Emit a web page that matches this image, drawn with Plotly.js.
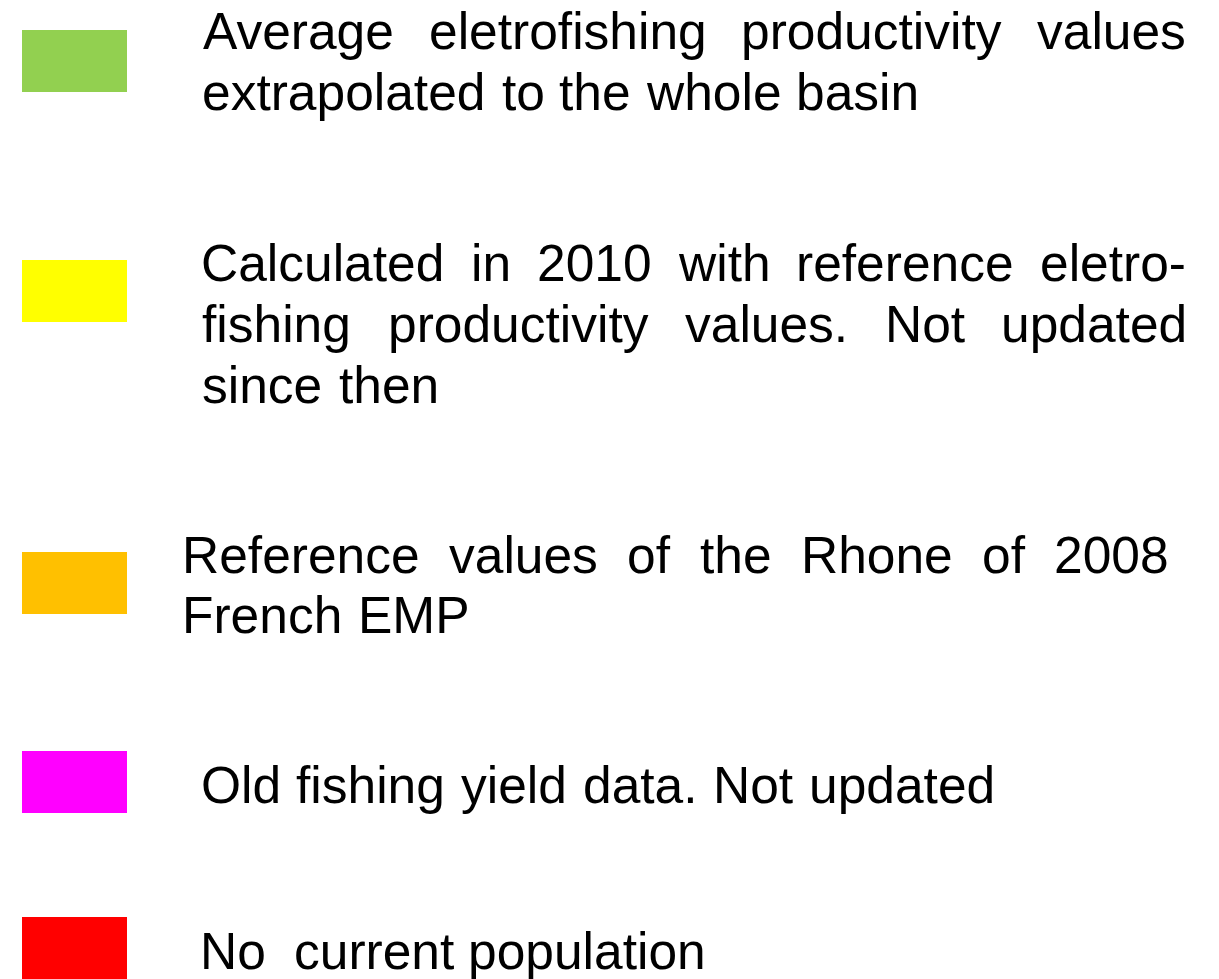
<!DOCTYPE html>
<html>
<head>
<meta charset="utf-8">
<script src="https://cdn.plot.ly/plotly-3.0.1.min.js"></script>
<style>
html, body { margin: 0; padding: 0; background: #ffffff; }
#chart { width: 1219px; height: 979px; }
</style>
</head>
<body>
<div id="chart"></div>
<script>
// ---- data ----
const categories = [
  "Average electrofishing productivity (extrapolated)",
  "Calculated in 2010 (reference values)",
  "Rhone 2008 French EMP reference",
  "Old fishing yield data",
  "No current population"
];
const colors = ["#92D050", "#FFFF00", "#FFC000", "#FF00FF", "#FF0000"];
const descriptionLines = [
  ["Average eletrofishing productivity values", "extrapolated to the whole basin"],
  ["Calculated in 2010 with reference eletro-", "fishing productivity values. Not updated", "since then"],
  ["Reference values of the Rhone of 2008", "French EMP"],
  ["Old fishing yield data. Not updated"],
  ["No  current population"]
];

// ---- layout geometry (pixels on a 1219x979 canvas) ----
const W = 1219, H = 979;
const swatch = { x0: 22, x1: 127, height: 62, centers: [61, 291, 583, 782, 948] };
// per line: [inkStart, inkEnd, baseline, justified]
const lineGeom = [
  [[203, 1184, 49, true], [204, 917, 110, false]],
  [[203, 1184, 281, true], [202, 1185, 342, true], [203, 438, 403, false]],
  [[186, 1167, 573, true], [186, 468, 633, false]],
  [[203, 994, 803, false]],
  [[204, 703, 969, false]]
];
const FONT_SIZE = 51.5;
const FONT_FAMILY = "Liberation Sans, Arial, Helvetica, sans-serif";

function draw() {
  const ctx = document.createElement("canvas").getContext("2d");
  ctx.font = FONT_SIZE + "px 'Liberation Sans', Arial, sans-serif";
  const m = s => ctx.measureText(s);
  const annotations = [];
  const yOffset = 0.3465 * FONT_SIZE; // baseline -> middle of text box

  descriptionLines.forEach((lines, p) => {
    lines.forEach((line, li) => {
      const [start, end, base, justified] = lineGeom[p][li];
      const words = [];
      let re = /\S+/g, mt;
      while ((mt = re.exec(line)) !== null) {
        words.push({ text: mt[0], off: m(line.substring(0, mt.index)).width });
      }
      const first = m(words[0].text);
      const last = m(words[words.length - 1].text);
      const lsb = -first.actualBoundingBoxLeft;
      const rsb = last.width - last.actualBoundingBoxRight;
      let xs = [];
      if (justified && words.length > 1) {
        const x0 = start - lsb, x1 = end + rsb;
        const sumW = words.reduce((a, w) => a + m(w.text).width, 0);
        const gap = (x1 - x0 - sumW) / (words.length - 1);
        let x = x0;
        words.forEach(w => { xs.push(x); x += m(w.text).width + gap; });
      } else {
        const lastW = words[words.length - 1];
        const natInkStart = words[0].off + lsb;
        const natInkEnd = lastW.off + last.actualBoundingBoxRight;
        const scale = (end - start) / (natInkEnd - natInkStart);
        words.forEach(w => {
          const wl = -m(w.text).actualBoundingBoxLeft;
          const inkL = w.off + wl;
          xs.push(start + (inkL - natInkStart) * scale - wl);
        });
      }
      words.forEach((w, i) => {
        annotations.push({
          x: xs[i], y: base - yOffset, xref: "x", yref: "y",
          xanchor: "left", yanchor: "middle",
          text: w.text, showarrow: false,
          borderpad: 0, borderwidth: 0,
          font: { family: FONT_FAMILY, size: FONT_SIZE, color: "#000000" }
        });
      });
    });
  });

  const trace = {
    type: "bar",
    orientation: "h",
    y: swatch.centers,
    x: categories.map(() => swatch.x1 - swatch.x0),
    base: swatch.x0,
    width: swatch.height,
    text: categories,
    textposition: "none",
    marker: { color: colors, line: { width: 0 } },
    hoverinfo: "text",
    showlegend: false
  };

  const layout = {
    width: W, height: H,
    margin: { l: 0, r: 0, t: 0, b: 0, pad: 0 },
    paper_bgcolor: "#ffffff", plot_bgcolor: "#ffffff",
    xaxis: { range: [0, W], visible: false, fixedrange: true },
    yaxis: { range: [H, 0], visible: false, fixedrange: true },
    showlegend: false,
    annotations: annotations
  };
  Plotly.newPlot("chart", [trace], layout, { displayModeBar: false, staticPlot: true });
}

if (document.fonts && document.fonts.load) {
  document.fonts.load(FONT_SIZE + "px 'Liberation Sans'").then(draw, draw);
} else {
  draw();
}
</script>
</body>
</html>
